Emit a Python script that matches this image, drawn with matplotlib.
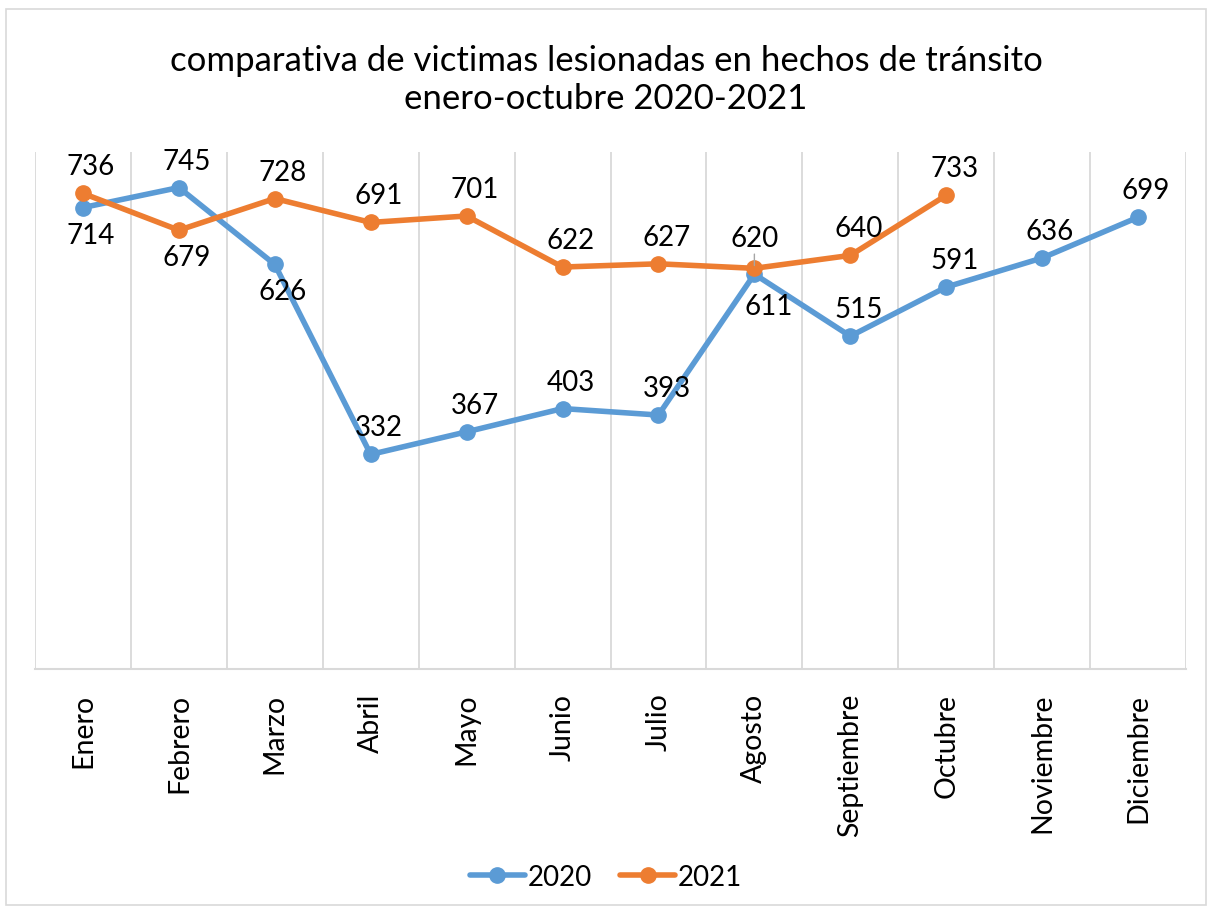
import matplotlib
matplotlib.use("Agg")
import matplotlib.pyplot as plt
from matplotlib.patches import Rectangle

# ---- datos ----
meses = ["Enero", "Febrero", "Marzo", "Abril", "Mayo", "Junio", "Julio",
         "Agosto", "Septiembre", "Octubre", "Noviembre", "Diciembre"]
v2020 = [714, 745, 626, 332, 367, 403, 393, 611, 515, 591, 636, 699]
v2021 = [736, 679, 728, 691, 701, 622, 627, 620, 640, 733]
# posición de etiqueta: 1 = arriba, -1 = abajo
pos2020 = [-1, 1, -1, 1, 1, 1, 1, -1, 1, 1, 1, 1]
pos2021 = [1, -1, 1, 1, 1, 1, 1, 1, 1, 1]

titulo = "comparativa de victimas lesionadas en hechos de tránsito\nenero-octubre 2020-2021"

c2020 = "#5B9BD5"
c2021 = "#ED7D31"
grid_c = "#D9D9D9"
plt.rcParams['font.family'] = ['Lato', 'DejaVu Sans']

fig = plt.figure(figsize=(12.12, 9.12), dpi=100)
fig.patches.append(Rectangle((6 / 1212, 6 / 912), 1200 / 1212, 896 / 912,
                             transform=fig.transFigure, fill=False,
                             edgecolor=grid_c, lw=1.2))

ax = fig.add_axes([35 / 1212, 242 / 912, 1151 / 1212, 517 / 912])
x = list(range(len(meses)))

ax.plot(x, v2020, color=c2020, lw=4, marker="o", ms=11, label="2020",
        solid_capstyle="round", zorder=3)
ax.plot(x[:len(v2021)], v2021, color=c2021, lw=4, marker="o", ms=11,
        label="2021", solid_capstyle="round", zorder=4)

ax.set_xlim(-0.5, 11.5)
ax.set_ylim(0, 800)
for b in [i - 0.5 for i in range(len(meses) + 1)]:
    ax.axvline(b, color=grid_c, lw=1.3, zorder=0)

for s in ["top", "right", "left"]:
    ax.spines[s].set_visible(False)
ax.spines["bottom"].set_color(grid_c)
ax.spines["bottom"].set_linewidth(1.5)
ax.set_yticks([])
ax.set_xticks(x)
ax.set_xticklabels(meses, rotation=90, fontsize=20.5, va="top", ha="center")
ax.tick_params(axis="x", length=0, pad=17)

# etiquetas de datos
for i, (v, p) in enumerate(zip(v2020, pos2020)):
    dx, dy = 8, 27 * p
    if i == 7:
        dx, dy = 14, -32
    ax.annotate(str(v), (i, v), xytext=(dx, dy), textcoords="offset pixels",
                ha="center", va="center", fontsize=20, zorder=5)
for i, (v, p) in enumerate(zip(v2021, pos2021)):
    if i == 7:
        ax.annotate(str(v), (i, v), xytext=(0, 30), textcoords="offset pixels",
                    ha="center", va="center", fontsize=20, zorder=5,
                    arrowprops=dict(arrowstyle="-", color="#A6A6A6", lw=1,
                                    shrinkA=12, shrinkB=2))
        continue
    ax.annotate(str(v), (i, v), xytext=(8, 27 * p), textcoords="offset pixels",
                ha="center", va="center", fontsize=20, zorder=5)

fig.text(0.5, 1 - 80 / 912, titulo, ha="center", va="center", fontsize=25,
         linespacing=1.2)

fig.legend(loc="center", bbox_to_anchor=(0.5, 34 / 912), ncol=2, frameon=False,
           fontsize=20, handlelength=2.0, handletextpad=0.1, columnspacing=1.0)

fig.savefig("out.png", dpi=100)
